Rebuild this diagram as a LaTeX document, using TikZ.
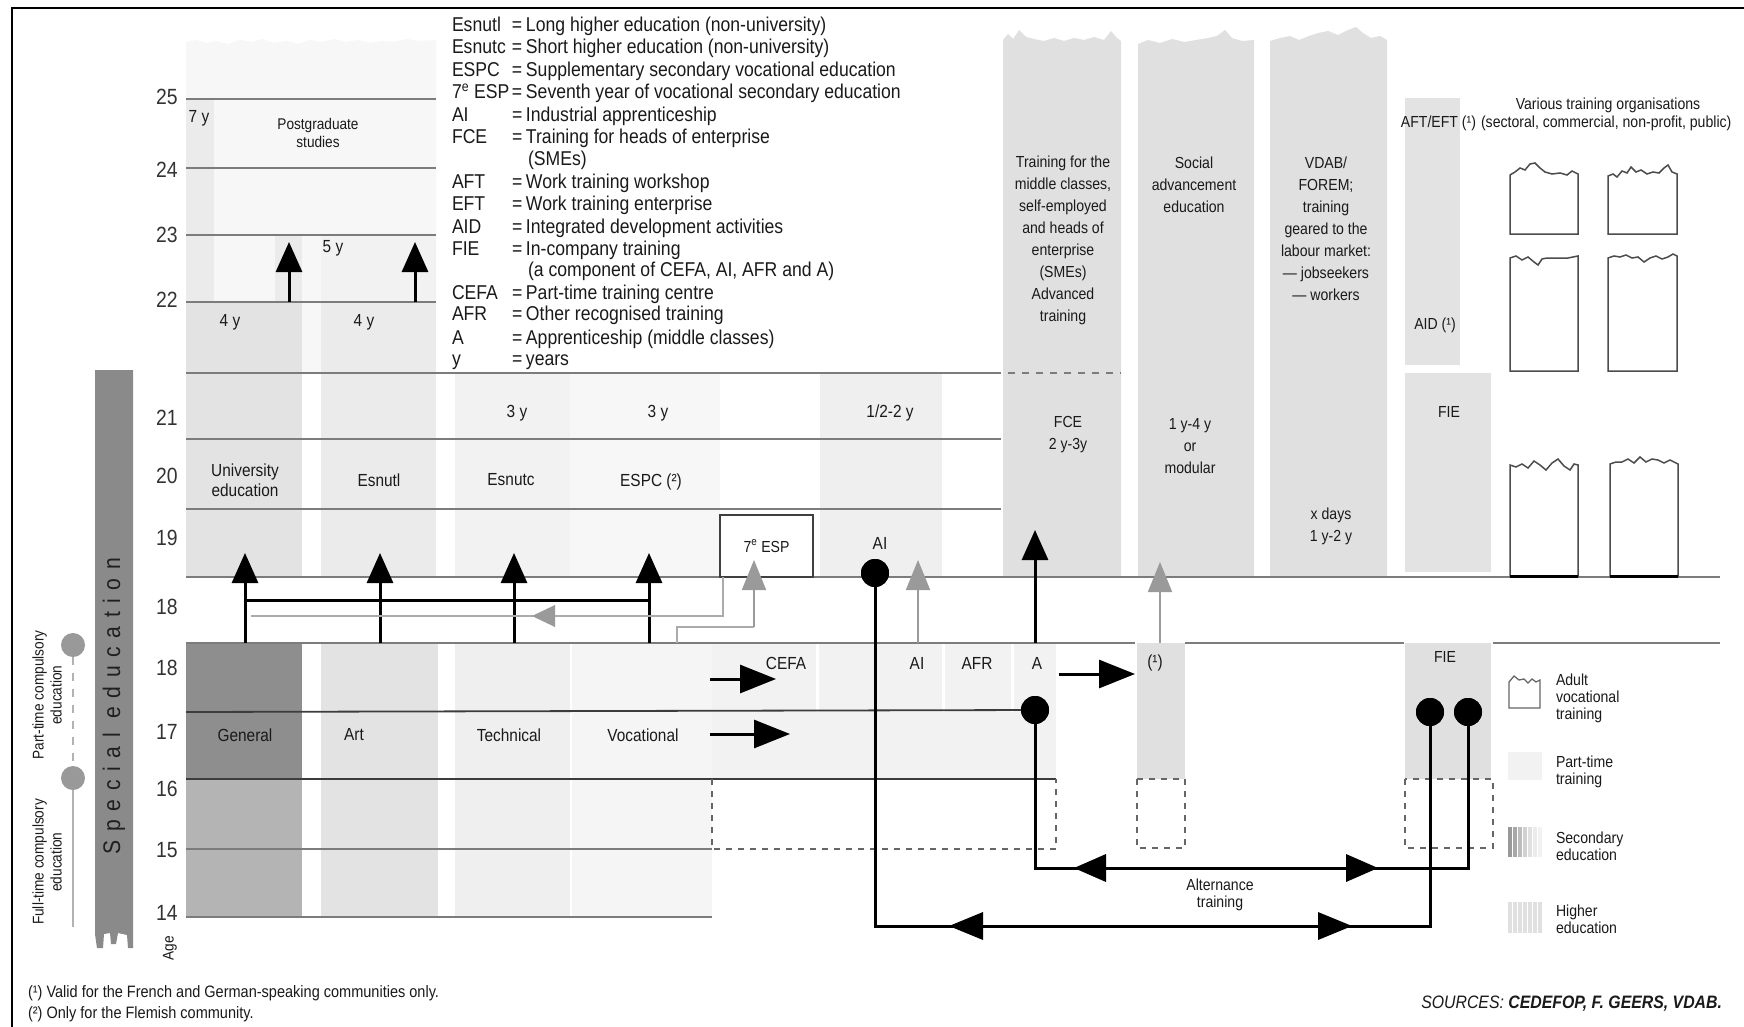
\documentclass[tikz,border=0pt]{standalone}
\usepackage{fontspec}
\setmainfont{Liberation Sans}[FakeStretch=0.88]
\usetikzlibrary{arrows.meta}
\definecolor{ink}{HTML}{1A1A1A}
\definecolor{rulec}{HTML}{7C7C7C}
\definecolor{darkr}{HTML}{3C3C3C}
\definecolor{gdark}{HTML}{8E8E8E}
\definecolor{gmid}{HTML}{B4B4B4}
\definecolor{gcol}{HTML}{E0E0E0}
\definecolor{guni}{HTML}{E3E3E3}
\definecolor{gesl}{HTML}{EBEBEB}
\definecolor{gai}{HTML}{EFEFEF}
\definecolor{gesc}{HTML}{F2F2F2}
\definecolor{gvoc}{HTML}{F5F5F5}
\definecolor{gbg}{HTML}{F7F7F7}
\definecolor{garrow}{HTML}{9A9A9A}
\definecolor{gline}{HTML}{ABABAB}
\definecolor{barc}{HTML}{8A8A8A}
\newcommand{\legrow}[3]{\makebox[60pt][l]{#1}\makebox[14pt][l]{#2}#3}
\begin{document}
\begin{tikzpicture}[x=1pt,y=-1pt,
  every node/.style={inner sep=0pt,outer sep=0pt,text=ink},
  lbl/.style={font=\fontsize{17.5}{20}\selectfont,align=center},
  clbl/.style={font=\fontsize{16}{22}\selectfont,align=center},
  slbl/.style={font=\fontsize{15.5}{18}\selectfont,align=center},
  agel/.style={font=\fontsize{22}{22}\selectfont,text=black!80},
  legl/.style={font=\fontsize{20}{22}\selectfont,anchor=base west},
  rulel/.style={draw=rulec,line width=2pt},
  darkl/.style={draw=darkr,line width=1.8pt},
  dashl/.style={draw=black!60,line width=1.5pt,dash pattern=on 6pt off 6pt},
  upar/.style={draw=black,line width=3pt,-{Triangle[length=30pt,width=26pt]}},
  blkln/.style={draw=black,line width=3pt},
  gryar/.style={draw=garrow,line width=1.8pt,-{Triangle[length=30pt,width=24pt]}},
  gryln/.style={draw=gline,line width=1.6pt},
  hzar/.style={draw=black,line width=3pt,-{Triangle[length=36pt,width=28pt]}},
  dotn/.style={circle,fill=black,minimum size=28pt},
  gdot/.style={circle,fill=black!40,minimum size=24pt},
  boxl/.style={draw=black!70,line width=1.5pt,fill=white}]
\useasboundingbox (0,0) rectangle (1744,1027);
\fill[white] (0,0) rectangle (1744,1027);
\draw[line width=1.5pt] (12,1027) -- (12,8) -- (1744,8);

% ---------- background fills ----------
\fill[gbg] (186,42) -- (196,40) -- (206,43) -- (216,41) -- (228,44) -- (240,40) -- (252,42) -- (262,39) -- (274,43) -- (286,41) -- (298,44) -- (310,40) -- (322,42) -- (334,39) -- (346,42) -- (358,40) -- (370,43) -- (382,41) -- (394,42) -- (406,39) -- (418,41) -- (436,40) -- (436,373) -- (186,373) -- cycle;
\fill[gesl] (186,99) rectangle (214,302);
\fill[gesl] (275,235) rectangle (302,302);
\fill[gesc] (321,235) rectangle (436,302);
\fill[guni] (186,302) rectangle (302,577);
\fill[gesl] (321,302) rectangle (436,577);
\fill[gesc] (455,373) rectangle (570,577);
\fill[gbg] (570,373) rectangle (720,577);
\fill[gai] (820,373) rectangle (942,577);
\fill[gcol] (1003,577) -- (1003,40) -- (1008,34) -- (1013,39) -- (1019,30) -- (1026,37) -- (1034,39) -- (1044,41) -- (1054,38) -- (1064,41) -- (1074,38) -- (1084,40) -- (1094,37) -- (1104,40) -- (1111,31) -- (1117,38) -- (1121,41) -- (1121,577) -- cycle;
\fill[gcol] (1138,577) -- (1138,44) -- (1148,40) -- (1160,43) -- (1172,39) -- (1184,42) -- (1196,40) -- (1208,38) -- (1217,36) -- (1225,30) -- (1232,38) -- (1242,41) -- (1254,40) -- (1254,577) -- cycle;
\fill[gcol] (1270,577) -- (1270,41) -- (1280,38) -- (1290,36) -- (1299,40) -- (1309,36) -- (1318,33) -- (1328,31) -- (1338,35) -- (1348,30) -- (1356,27) -- (1363,33) -- (1371,38) -- (1380,36) -- (1387,40) -- (1387,577) -- cycle;
\fill[guni] (1405,98) rectangle (1460,365);
\fill[guni] (1405,373) rectangle (1491,572);
% lower block
\fill[gdark] (186,643) rectangle (302,779);
\fill[gmid] (186,779) rectangle (302,917);
\fill[guni] (321,643) rectangle (438,917);
\fill[gai] (455,643) rectangle (570,917);
\fill[gvoc] (572,643) rectangle (712,917);
\fill[gesc] (712,643) rectangle (1056,779);
\fill[white] (816,643) rectangle (819,712);
\fill[white] (942,643) rectangle (945,712);
\fill[white] (1011,643) rectangle (1014,712);
\fill[gcol] (1137,643) rectangle (1185,779);
\fill[gcol] (1405,643) rectangle (1491,779);

% ---------- rules ----------
\foreach \yy in {99,168,235,302} \draw[rulel] (186,\yy) -- (436,\yy);
\draw[rulel] (186,373) -- (1001,373);
\draw[draw=rulec,line width=2pt,dash pattern=on 7pt off 7pt] (1008,373) -- (1121,373);
\draw[rulel] (186,439) -- (1001,439);
\draw[rulel] (186,509) -- (1001,509);
\draw[rulel] (186,577) -- (1720,577);
\draw[rulel] (186,643) -- (1135,643);
\draw[rulel] (1185,643) -- (1404,643);
\draw[rulel] (1493,643) -- (1720,643);
\draw[darkl] (186,779) -- (1056,779);
\draw[rulel] (186,849) -- (712,849);
\draw[rulel] (186,917) -- (712,917);
\draw[dashl] (712,779) -- (712,849) -- (1056,849) -- (1056,779);
\draw[dashl] (1137,779) rectangle (1185,848);
\draw[dashl] (1405,779) rectangle (1493,848);

% ---------- special education bar ----------
\fill[barc] (95,370) -- (133,370) -- (133,948) -- (128,948) -- (127,935) -- (118,933) -- (116,944) -- (111,944) -- (110,933) -- (104,934) -- (103,948) -- (97,948) -- (95,934) -- cycle;
\node[rotate=90,font=\fontsize{24}{24}\selectfont\addfontfeature{LetterSpace=36},text=black!88] (spec) at (114,706) {Special education};

% ---------- left compulsory labels ----------
\node[gdot] (ptdot) at (73,645) {};
\node[gdot] (ftdot) at (73,778) {};
\coordinate (ftend) at (73,927);
\draw[draw=black!30,line width=1.5pt,dash pattern=on 8pt off 8pt] (ptdot) -- (ftdot);
\draw[draw=black!30,line width=1.5pt] (ftdot) -- (ftend);
\node[slbl,rotate=90] (ptlab) at (47,695) {Part-time compulsory\\education};
\node[slbl,rotate=90] (ftlab) at (47,862) {Full-time compulsory\\education};

% ---------- ages ----------
\foreach \a/\yy in {25/97,24/170,23/235,22/300,21/418,20/476,19/538,18/607,18/668,17/732,16/789,15/850,14/913}
  \node[agel] at (167,\yy) {\a};
\node[slbl,rotate=90] (agelab) at (170,948) {Age};

% ---------- upper-left labels ----------
\node[lbl] (l7y) at (199,118) {7 y};
\node[slbl] (pgs) at (318,133) {Postgraduate\\studies};
\node[lbl] (l5y) at (333,248) {5 y};
\node[lbl] (l4ya) at (230,322) {4 y};
\node[lbl] (l4yb) at (364,322) {4 y};
\coordinate (pa1) at (289,302); \coordinate (pa1t) at (289,242);
\coordinate (pa2) at (415,302); \coordinate (pa2t) at (415,242);
\draw[upar] (pa1) -- (pa1t);
\draw[upar] (pa2) -- (pa2t);

% ---------- legend of abbreviations ----------
\node[legl] (lg1) at (452,32) {\legrow{Esnutl}{=}{Long higher education (non-university)}};
\node[legl] (lg2) at (452,54) {\legrow{Esnutc}{=}{Short higher education (non-university)}};
\node[legl] (lg3) at (452,77) {\legrow{ESPC}{=}{Supplementary secondary vocational education}};
\node[legl] (lg4) at (452,99) {\legrow{7\textsuperscript{e} ESP}{=}{Seventh year of vocational secondary education}};
\node[legl] (lg5) at (452,122) {\legrow{AI}{=}{Industrial apprenticeship}};
\node[legl] (lg6) at (452,144) {\legrow{FCE}{=}{Training for heads of enterprise}};
\node[legl] (lg7) at (528,166) {(SMEs)};
\node[legl] (lg8) at (452,189) {\legrow{AFT}{=}{Work training workshop}};
\node[legl] (lg9) at (452,210) {\legrow{EFT}{=}{Work training enterprise}};
\node[legl] (lg10) at (452,233) {\legrow{AID}{=}{Integrated development activities}};
\node[legl] (lg11) at (452,255) {\legrow{FIE}{=}{In-company training}};
\node[legl] (lg12) at (528,276) {(a component of CEFA, AI, AFR and A)};
\node[legl] (lg13) at (452,299) {\legrow{CEFA}{=}{Part-time training centre}};
\node[legl] (lg14) at (452,320) {\legrow{AFR}{=}{Other recognised training}};
\node[legl] (lg15) at (452,344) {\legrow{A}{=}{Apprenticeship (middle classes)}};
\node[legl] (lg16) at (452,365) {\legrow{y}{=}{years}};

% ---------- upper-middle labels ----------
\node[lbl] (univ) at (245,480) {University\\education};
\node[lbl] (esnutl) at (379,480) {Esnutl};
\node[lbl] (esnutc) at (511,480) {Esnutc};
\node[lbl] (espc) at (651,482) {ESPC (²)};
\node[lbl] (y3a) at (517,413) {3 y};
\node[lbl] (y3b) at (658,413) {3 y};
\node[lbl] (yai) at (890,413) {1/2-2 y};
\node[lbl] (ailab) at (880,543) {AI};

% ---------- right columns labels ----------
\node[clbl] (fcet) at (1063,240) {Training for the\\middle classes,\\self-employed\\and heads of\\enterprise\\(SMEs)\\Advanced\\training};
\node[clbl] (soct) at (1194,185) {Social\\advancement\\education};
\node[clbl] (vdabt) at (1326,229) {VDAB/\\FOREM;\\training\\geared to the\\labour market:\\— jobseekers\\— workers};
\node[clbl] (fcel) at (1068,435) {FCE\\2 y-3y};
\node[clbl] (socl) at (1190,446) {1 y-4 y\\or\\modular};
\node[clbl] (vdabl) at (1331,526) {x days\\1 y-2 y};
\node[clbl] (aidl) at (1435,325) {AID (¹)};
\node[clbl] (fieu) at (1449,412) {FIE};
\node[clbl] (fiel) at (1445,657) {FIE};
\node[clbl] (vto) at (1608,105) {Various training organisations};
\node[clbl,anchor=east] (afteft) at (1476,123) {AFT/EFT (¹)};
\node[clbl,anchor=west] (sect) at (1481,123) {(sectoral, commercial, non-profit, public)};

% ---------- adult vocational boxes ----------
\draw[boxl] (1510,175) -- (1510,234) -- (1578,234) -- (1578,174) -- (1572,171) -- (1567,175) -- (1560,173) -- (1552,174) -- (1545,172) -- (1540,168) -- (1535,163) -- (1530,164) -- (1525,170) -- (1520,168) -- (1515,172) -- cycle;
\draw[boxl] (1608,176) -- (1608,234) -- (1677,234) -- (1677,174) -- (1672,172) -- (1668,165) -- (1664,168) -- (1659,173) -- (1653,172) -- (1647,174) -- (1641,170) -- (1636,172) -- (1631,167) -- (1627,173) -- (1622,171) -- (1617,177) -- (1613,174) -- cycle;
\draw[boxl] (1510,258) -- (1510,371) -- (1578,371) -- (1578,256) -- (1568,258) -- (1552,258) -- (1547,258) -- (1542,259) -- (1538,265) -- (1534,262) -- (1528,257) -- (1522,260) -- (1516,256) -- cycle;
\draw[boxl] (1608,258) -- (1608,371) -- (1677,371) -- (1677,256) -- (1673,254) -- (1668,257) -- (1662,259) -- (1656,256) -- (1650,258) -- (1644,262) -- (1638,257) -- (1632,258) -- (1626,255) -- (1620,257) -- (1614,256) -- cycle;
\draw[boxl] (1510,465) -- (1510,576) -- (1578,576) -- (1578,465) -- (1574,464) -- (1570,470) -- (1564,466) -- (1558,459) -- (1552,463) -- (1546,470) -- (1540,465) -- (1534,461) -- (1528,468) -- (1522,464) -- (1516,467) -- cycle;
\draw[boxl] (1610,464) -- (1610,576) -- (1678,576) -- (1678,464) -- (1674,462) -- (1670,460) -- (1664,463) -- (1658,460) -- (1652,459) -- (1646,462) -- (1640,457) -- (1634,463) -- (1628,459) -- (1622,462) -- (1616,462) -- cycle;
\draw[black,line width=3pt] (1510,576) -- (1578,576);
\draw[black,line width=3pt] (1610,576) -- (1678,576);

% ---------- 7e ESP box ----------
\node[draw=black!75,line width=2pt,fill=white,minimum width=93pt,minimum height=62pt,font=\fontsize{16}{18}\selectfont] (esp7) at (766.5,546) {7\textsuperscript{e} ESP};

% ---------- arrows 18 -> 19 ----------
\coordinate (s1) at (245,643); \coordinate (t1) at (245,553);
\coordinate (s2) at (380,643); \coordinate (t2) at (380,553);
\coordinate (s3) at (514,643); \coordinate (t3) at (514,553);
\coordinate (s4) at (649,643); \coordinate (t4) at (649,553);
\coordinate (h1) at (245,600); \coordinate (h2) at (649,600);
\draw[blkln] (h1) -- (h2);
\draw[upar] (s1) -- (t1);
\draw[upar] (s2) -- (t2);
\draw[upar] (s3) -- (t3);
\draw[upar] (s4) -- (t4);
% grey return lines
\coordinate (g1a) at (723,577); \coordinate (g1b) at (251,616);
\draw[gryln] (g1a) |- (g1b);
\fill[garrow] (532,616) -- (555,605) -- (555,627) -- cycle;
\coordinate (g2a) at (677,643); \coordinate (g2b) at (754,627); \coordinate (g2t) at (754,560);
\draw[gryln] (g2a) |- (g2b);
\draw[gryar] (g2b) -- (g2t);
\coordinate (g3a) at (918,643); \coordinate (g3t) at (918,560);
\draw[gryar] (g3a) -- (g3t);
\coordinate (g4a) at (1160,643); \coordinate (g4t) at (1160,562);
\draw[gryar] (g4a) -- (g4t);
\coordinate (aar) at (1035,643); \coordinate (aart) at (1035,530);
\draw[upar] (aar) -- (aart);

% ---------- horizontal arrows ----------
\coordinate (c1) at (710,679); \coordinate (c1t) at (776,679);
\draw[hzar] (c1) -- (c1t);
\coordinate (v1) at (710,734); \coordinate (v1t) at (790,734);
\draw[hzar] (v1) -- (v1t);
\coordinate (a1) at (1059,674); \coordinate (a1t) at (1135,674);
\draw[hzar] (a1) -- (a1t);

% ---------- alternance ----------
\node[dotn] (aidot) at (875,573) {};
\node[dotn] (adot) at (1035,710) {};
\node[dotn] (fie1) at (1430,712) {};
\node[dotn] (fie2) at (1468,712) {};
\coordinate (altlo) at (875,926);
\coordinate (althi) at (1035,868);
\draw[darkl] (186,712) -- (adot.center);
\draw[blkln] (aidot.center) -- (altlo) -| (fie1.center);
\draw[blkln] (adot.center) -- (althi) -| (fie2.center);
\fill (949,926) -- (983,912) -- (983,940) -- cycle;
\fill (1352,926) -- (1318,912) -- (1318,940) -- cycle;
\fill (1074,868) -- (1106,854) -- (1106,882) -- cycle;
\fill (1378,868) -- (1346,854) -- (1346,882) -- cycle;
\node[dotn] at (875,573) {};
\node[dotn] at (1035,710) {};
\node[dotn] at (1430,712) {};
\node[dotn] at (1468,712) {};
\node[clbl,font=\fontsize{16}{17}\selectfont] (altlab) at (1220,895) {Alternance\\training};

% ---------- lower labels ----------
\node[lbl] (gen) at (245,735) {General};
\node[lbl] (art) at (354,735) {Art};
\node[lbl] (tech) at (509,735) {Technical};
\node[lbl] (voc) at (643,735) {Vocational};
\node[lbl] (cefa) at (786,663) {CEFA};
\node[lbl] (ail) at (917,663) {AI};
\node[lbl] (afr) at (977,663) {AFR};
\node[lbl] (al) at (1037,663) {A};
\node[lbl] (fn1) at (1155,663) {(¹)};

% ---------- bottom-right legend ----------
\draw[draw=black!60,line width=1.3pt] (1509,682) -- (1509,708) -- (1540,708) -- (1540,680) -- (1536,682) -- (1532,679) -- (1528,683) -- (1524,679) -- (1519,680) -- (1514,676) -- cycle;
\fill[gesc] (1508,752) rectangle (1542,780);
\foreach \xx/\cc in {1508/60,1513/66,1518/74,1523/82,1528/88,1533/92,1538/95}
  \fill[black!\the\numexpr100-\cc\relax] (\xx,827) rectangle ++(4,30);
\foreach \xx in {1508,1513,1518,1523,1528,1533,1538}
  \fill[black!12] (\xx,902) rectangle ++(3.5,31);
\node[clbl,anchor=west,align=left,font=\fontsize{16}{17}\selectfont] (lgav) at (1556,698) {Adult\\vocational\\training};
\node[clbl,anchor=west,align=left,font=\fontsize{16}{17}\selectfont] (lgpt) at (1556,772) {Part-time\\training};
\node[clbl,anchor=west,align=left,font=\fontsize{16}{17}\selectfont] (lgse) at (1556,846) {Secondary\\education};
\node[clbl,anchor=west,align=left,font=\fontsize{16}{17}\selectfont] (lghe) at (1556,919) {Higher\\education};

% ---------- footnotes and sources ----------
\node[anchor=base west,font=\fontsize{16.5}{18}\selectfont] (foot1) at (28,997) {(¹) Valid for the French and German-speaking communities only.};
\node[anchor=base west,font=\fontsize{16.5}{18}\selectfont] (foot2) at (28,1018) {(²) Only for the Flemish community.};
\node[anchor=base east,font=\fontsize{18}{20}\selectfont] (src) at (1722,1008) {\itshape SOURCES: \bfseries CEDEFOP, F. GEERS, VDAB.};
\end{tikzpicture}
\end{document}
